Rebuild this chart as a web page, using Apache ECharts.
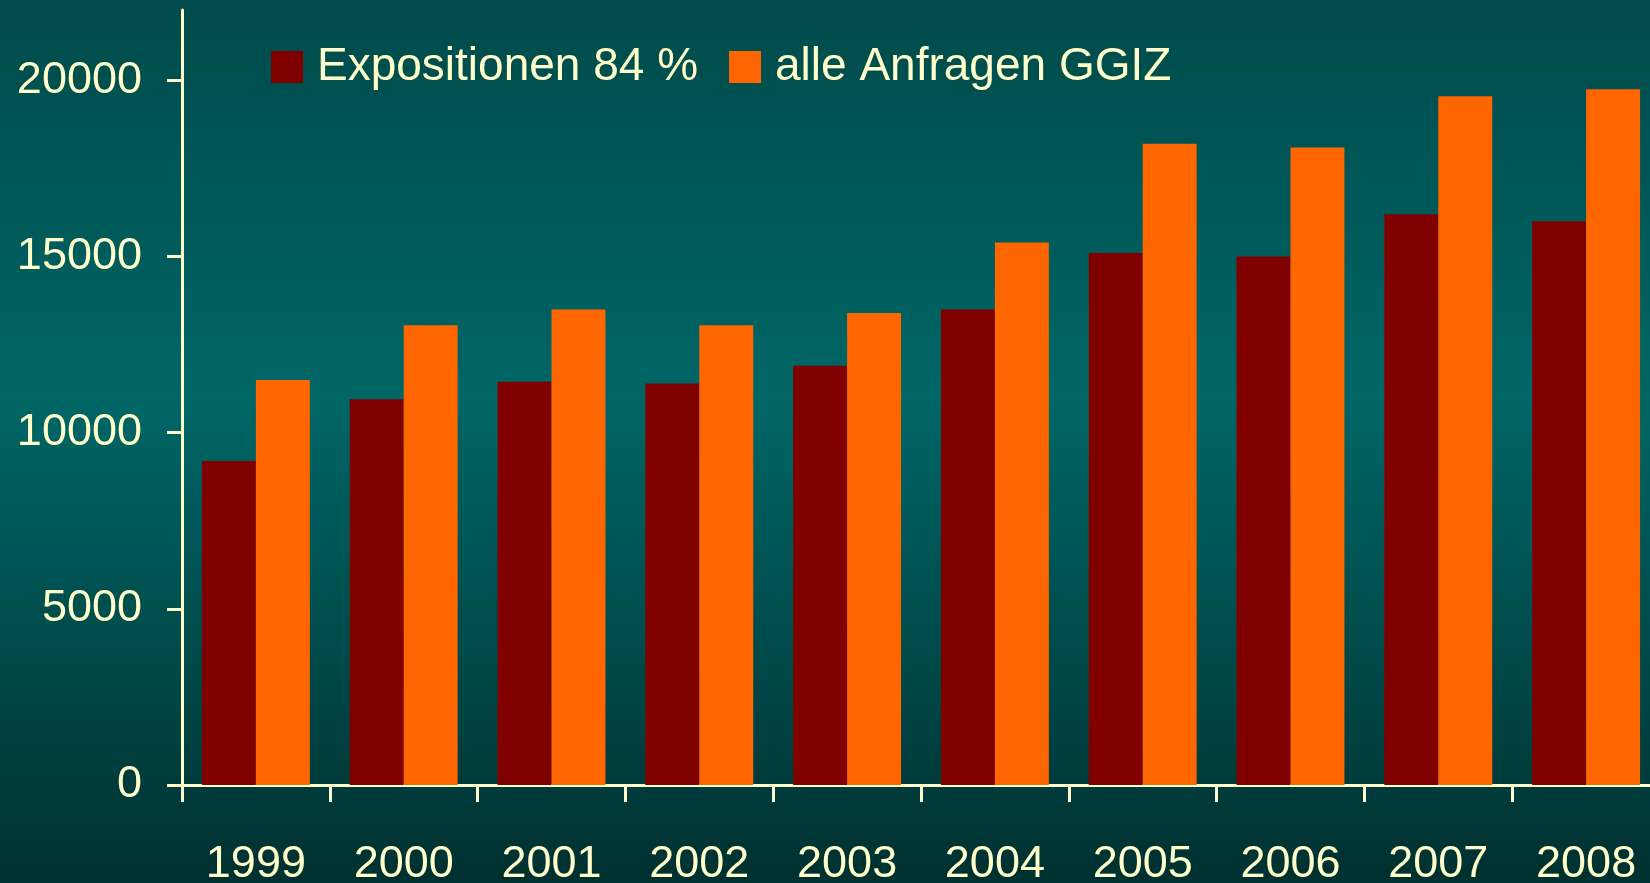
<!DOCTYPE html>
<html>
<head>
<meta charset="utf-8">
<script src="https://cdn.jsdelivr.net/npm/echarts@6/dist/echarts.min.js"></script>
<style>
html,body{margin:0;padding:0;width:1650px;height:883px;overflow:hidden;}
#chart{width:1650px;height:883px;}
</style>
</head>
<body>
<div id="chart"></div>
<script>
var categories = ['1999','2000','2001','2002','2003','2004','2005','2006','2007','2008'];
var expositionen = [9200, 10950, 11450, 11400, 11900, 13500, 15100, 15000, 16200, 16000];
var alleAnfragen = [11500, 13050, 13500, 13050, 13400, 15400, 18200, 18100, 19550, 19750];
var yTicks = [0, 5000, 10000, 15000, 20000];
var seriesNames = ['Expositionen 84 %', 'alle Anfragen GGIZ'];

var cream = '#FFFFCC';
var font = '"Liberation Sans", Arial, sans-serif';

var chart = echarts.init(document.getElementById('chart'));
chart.setOption({
  animation: false,
  backgroundColor: {
    type: 'linear', x: 0, y: 0, x2: 0, y2: 1,
    colorStops: [
      {offset: 0, color: '#004a4a'},
      {offset: 0.45, color: '#006666'},
      {offset: 1, color: '#003030'}
    ]
  },
  legend: {
    left: 271,
    top: 44,
    padding: 0,
    itemWidth: 32,
    itemHeight: 32,
    itemGap: 31,
    icon: 'rect',
    textStyle: {color: cream, fontSize: 46, fontFamily: font, padding: [0, 0, 0, 9]},
    data: seriesNames
  },
  grid: {left: 182, width: 1478, top: 10, bottom: 98, containLabel: false, outerBoundsMode: 'none'},
  xAxis: {
    type: 'category',
    data: categories,
    axisLine: {lineStyle: {color: cream, width: 3}},
    axisTick: {show: true, length: 17, lineStyle: {color: cream, width: 3}},
    axisLabel: {color: cream, fontSize: 45, fontFamily: font, margin: 57, interval: 0}
  },
  yAxis: {
    type: 'value',
    min: 0,
    max: 22000,
    interval: 2000,
    splitLine: {show: false},
    axisLine: {show: true, lineStyle: {color: cream, width: 3}},
    axisTick: {show: true, length: 15, customValues: yTicks, lineStyle: {color: cream, width: 3}},
    axisLabel: {color: cream, fontSize: 45, fontFamily: font, margin: 40, customValues: yTicks,
      formatter: function (v) { return String(v); }}
  },
  series: [
    {name: seriesNames[0], type: 'bar', data: expositionen, itemStyle: {color: '#800000'}, barGap: '0%', barCategoryGap: '27%'},
    {name: seriesNames[1], type: 'bar', data: alleAnfragen, itemStyle: {color: '#FF6600'}, barGap: '0%', barCategoryGap: '27%'}
  ]
});
</script>
</body>
</html>
